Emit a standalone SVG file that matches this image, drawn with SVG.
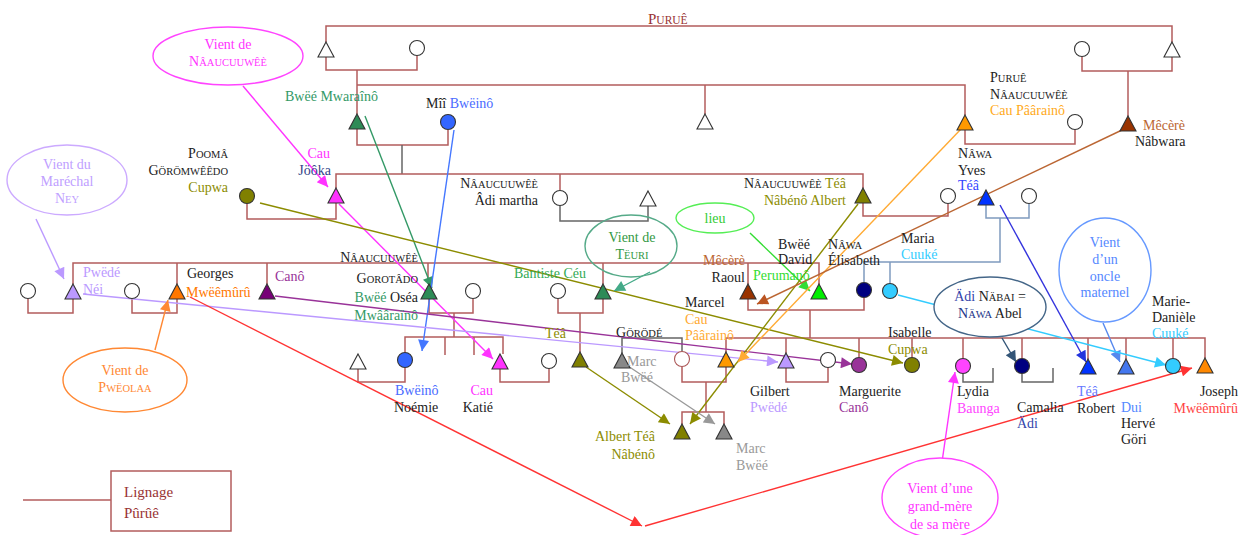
<svg xmlns="http://www.w3.org/2000/svg" width="1243" height="535" viewBox="0 0 1243 535">
<style>
text{font-family:"Liberation Serif","Times New Roman",serif;font-size:14px;fill:#222}
.ln{fill:none;stroke:#b35c5c;stroke-width:1.5}
.gl{fill:none;stroke:#666;stroke-width:1.5}
.bl{fill:none;stroke:#7f9bbf;stroke-width:1.5}
.nd{stroke:#333;stroke-width:1.1}
.ar{fill:none;stroke-width:1.4}
.sc{font-size:10.5px}
.mid{text-anchor:middle}
.end{text-anchor:end}
.el{stroke-width:1.4}
</style>
<defs>
<path id="tri" d="M0,-8 L8,7 L-8,7 Z"/>
<marker id="m-mag" viewBox="0 0 10 10" refX="10" refY="5" markerWidth="13" markerHeight="11" markerUnits="userSpaceOnUse" orient="auto"><path d="M0,0 L10,5 L0,10 Z" fill="#ff33ff"/></marker>
<marker id="m-grn" viewBox="0 0 10 10" refX="10" refY="5" markerWidth="13" markerHeight="11" markerUnits="userSpaceOnUse" orient="auto"><path d="M0,0 L10,5 L0,10 Z" fill="#339966"/></marker>
<marker id="m-blu" viewBox="0 0 10 10" refX="10" refY="5" markerWidth="13" markerHeight="11" markerUnits="userSpaceOnUse" orient="auto"><path d="M0,0 L10,5 L0,10 Z" fill="#4477ff"/></marker>
<marker id="m-oli" viewBox="0 0 10 10" refX="10" refY="5" markerWidth="13" markerHeight="11" markerUnits="userSpaceOnUse" orient="auto"><path d="M0,0 L10,5 L0,10 Z" fill="#8c8c00"/></marker>
<marker id="m-lpu" viewBox="0 0 10 10" refX="10" refY="5" markerWidth="13" markerHeight="11" markerUnits="userSpaceOnUse" orient="auto"><path d="M0,0 L10,5 L0,10 Z" fill="#bb99ff"/></marker>
<marker id="m-pur" viewBox="0 0 10 10" refX="10" refY="5" markerWidth="13" markerHeight="11" markerUnits="userSpaceOnUse" orient="auto"><path d="M0,0 L10,5 L0,10 Z" fill="#993399"/></marker>
<marker id="m-ora" viewBox="0 0 10 10" refX="10" refY="5" markerWidth="13" markerHeight="11" markerUnits="userSpaceOnUse" orient="auto"><path d="M0,0 L10,5 L0,10 Z" fill="#ff8833"/></marker>
<marker id="m-red" viewBox="0 0 10 10" refX="10" refY="5" markerWidth="13" markerHeight="11" markerUnits="userSpaceOnUse" orient="auto"><path d="M0,0 L10,5 L0,10 Z" fill="#ff3333"/></marker>
<marker id="m-tea" viewBox="0 0 10 10" refX="10" refY="5" markerWidth="13" markerHeight="11" markerUnits="userSpaceOnUse" orient="auto"><path d="M0,0 L10,5 L0,10 Z" fill="#44aa88"/></marker>
<marker id="m-lgr" viewBox="0 0 10 10" refX="10" refY="5" markerWidth="13" markerHeight="11" markerUnits="userSpaceOnUse" orient="auto"><path d="M0,0 L10,5 L0,10 Z" fill="#33dd33"/></marker>
<marker id="m-gry" viewBox="0 0 10 10" refX="10" refY="5" markerWidth="13" markerHeight="11" markerUnits="userSpaceOnUse" orient="auto"><path d="M0,0 L10,5 L0,10 Z" fill="#999999"/></marker>
<marker id="m-lor" viewBox="0 0 10 10" refX="10" refY="5" markerWidth="13" markerHeight="11" markerUnits="userSpaceOnUse" orient="auto"><path d="M0,0 L10,5 L0,10 Z" fill="#ffaa33"/></marker>
<marker id="m-brn" viewBox="0 0 10 10" refX="10" refY="5" markerWidth="13" markerHeight="11" markerUnits="userSpaceOnUse" orient="auto"><path d="M0,0 L10,5 L0,10 Z" fill="#bb5522"/></marker>
<marker id="m-dbl" viewBox="0 0 10 10" refX="10" refY="5" markerWidth="13" markerHeight="11" markerUnits="userSpaceOnUse" orient="auto"><path d="M0,0 L10,5 L0,10 Z" fill="#2233dd"/></marker>
<marker id="m-lbl" viewBox="0 0 10 10" refX="10" refY="5" markerWidth="13" markerHeight="11" markerUnits="userSpaceOnUse" orient="auto"><path d="M0,0 L10,5 L0,10 Z" fill="#5588ee"/></marker>
<marker id="m-cya" viewBox="0 0 10 10" refX="10" refY="5" markerWidth="13" markerHeight="11" markerUnits="userSpaceOnUse" orient="auto"><path d="M0,0 L10,5 L0,10 Z" fill="#33ccff"/></marker>
<marker id="m-sla" viewBox="0 0 10 10" refX="10" refY="5" markerWidth="13" markerHeight="11" markerUnits="userSpaceOnUse" orient="auto"><path d="M0,0 L10,5 L0,10 Z" fill="#335577"/></marker>
</defs>
<rect width="1243" height="535" fill="#fff"/>

<text x="648" y="24" fill="#993333" style="fill:#993333;font-size:15px">P<tspan class="sc" style="font-size:11.5px">URUÊ</tspan></text>

<g id="lineage">
<path class="ln" d="M326,42 V26 H1172 V42"/>
<path class="ln" d="M326,57 V70 H417 V56"/>
<path class="ln" d="M357,70 V114"/>
<path class="ln" d="M357,85 H965 V115"/>
<path class="ln" d="M705,85 V114"/>
<path class="ln" d="M1082,57 V71 H1172 V57"/>
<path class="ln" d="M1128,71 V116"/>
<path class="ln" d="M965,130 V144 H1075 V130"/>
<path class="ln" d="M357,129 V145 H448 V130"/>
<path class="gl" d="M402,145 V174"/>
<path class="ln" d="M336,188 V174 H863 V188"/>
<path class="ln" d="M560,174 V190"/>
<path class="ln" d="M247,204 V219 H336 V203"/>
<path class="gl" d="M560,206 V221 H648 V206"/>
<path class="ln" d="M863,203 V216 H948 V204"/>
<path class="bl" d="M986,205 V218 H1029 V204"/>
<path class="bl" d="M1000,218 V262 H864 V282"/>
<path class="bl" d="M890,262 V283"/>
<path class="ln" d="M73,284 V263 H819 V284"/>
<path class="ln" d="M177,263 V284 M267,263 V284 M428,263 V284 M603,263 V284 M748,263 V284"/>
<path class="ln" d="M28,299 V313 H73 V299"/>
<path class="ln" d="M132,299 V313 H177 V299"/>
<path class="ln" d="M429,299 V313 H473 V299"/>
<path class="ln" d="M454,313 V337"/>
<path class="ln" d="M405,352 V337 H503 V354"/>
<path class="ln" d="M445,337 V355 M474,337 V355"/>
<path class="ln" d="M558,299 V313 H603 V299"/>
<path class="ln" d="M580,313 V352"/>
<path class="ln" d="M748,299 V310 H864 V298"/>
<path class="ln" d="M810,310 V338"/>
<path class="ln" d="M726,352 V338 H1205 V358"/>
<path class="ln" d="M786,338 V353 M859,338 V357 M912,338 V357 M963,338 V358 M1022,338 V358 M1088,338 V359 M1126,338 V359 M1173,338 V358"/>
<path class="gl" d="M622,353 V338 H682 V351"/>
<path class="ln" d="M358,369 V382 H405 V368"/>
<path class="ln" d="M500,369 V382 H549 V369"/>
<path class="ln" d="M682,367 V382 H726 V367"/>
<path class="ln" d="M706,382 V412"/>
<path class="ln" d="M682,424 V412 H724 V424"/>
<path class="ln" d="M786,368 V382 H828 V368"/>
<path class="gl" d="M963,374 V382 H993 V368"/>
<path class="gl" d="M1022,374 V382 H1053 V368"/>
</g>

<g id="connectors">
<path class="ar" stroke="#ff33ff" d="M243,86 L328,187" marker-end="url(#m-mag)"/>
<path class="ar" stroke="#ff33ff" d="M339,204 L493,359" marker-end="url(#m-mag)"/>
<path class="ar" stroke="#339966" d="M365,116 L432,288" marker-end="url(#m-grn)"/>
<path class="ar" stroke="#4477ff" d="M454,130 L422,351" marker-end="url(#m-blu)"/>
<path class="ar" stroke="#8c8c00" d="M260,203 L903,363" marker-end="url(#m-oli)"/>
<path class="ar" stroke="#bb99ff" d="M36,219 L64,279" marker-end="url(#m-lpu)"/>
<path class="ar" stroke="#bb99ff" d="M83,294 L778,362" marker-end="url(#m-lpu)"/>
<path class="ar" stroke="#993399" d="M275,296 L852,364" marker-end="url(#m-pur)"/>
<path class="ar" stroke="#ff8833" d="M155,350 L168,300" marker-end="url(#m-ora)"/>
<path class="ar" stroke="#ff3333" d="M190,297 L642,526" marker-end="url(#m-red)"/>
<path class="ar" stroke="#ff3333" d="M645,526 L1192,368" marker-end="url(#m-red)"/>
<path class="ar" stroke="#44aa88" d="M650,272 L614,291" marker-end="url(#m-tea)"/>
<path class="ar" stroke="#33dd33" d="M750,233 L810,291" marker-end="url(#m-lgr)"/>
<path class="ar" stroke="#8c8c00" d="M858,204 L690,424" marker-end="url(#m-oli)"/>
<path class="ar" stroke="#8c8c00" d="M586,367 L670,424" marker-end="url(#m-oli)"/>
<path class="ar" stroke="#999999" d="M628,366 L715,424" marker-end="url(#m-gry)"/>
<path class="ar" stroke="#ffaa33" d="M962,128 L738,362" marker-end="url(#m-lor)"/>
<path class="ar" stroke="#bb6633" d="M1122,130 L757,304" marker-end="url(#m-brn)"/>
<path class="ar" stroke="#3333dd" d="M1000,205 L1086,362" marker-end="url(#m-dbl)"/>
<path class="ar" stroke="#5588ee" d="M1103,323 L1120,362" marker-end="url(#m-lbl)"/>
<path class="ar" stroke="#33ccff" d="M898,295 L1166,365" marker-end="url(#m-cya)"/>
<path class="ar" stroke="#335577" d="M1002,338 L1016,362" marker-end="url(#m-sla)"/>
<path class="ar" stroke="#ff33ff" d="M942,462 L955,372" marker-end="url(#m-mag)"/>
</g>

<g id="e-naau"><ellipse class="el" cx="228" cy="56" rx="75" ry="29" fill="#fff" stroke="#ff44ff"/>
<text class="mid" x="228" y="49" style="fill:#ff33ff">Vient de</text>
<text class="mid" x="228" y="66" style="fill:#ff33ff">N<tspan class="sc">ÂAUCUUWÊÈ</tspan></text></g>
<g id="e-ney"><ellipse class="el" cx="67" cy="180" rx="60" ry="35" fill="#fff" stroke="#ccaaff"/>
<text class="mid" x="67" y="169" style="fill:#c0a0ff">Vient du</text>
<text class="mid" x="67" y="186" style="fill:#c0a0ff">Maréchal</text>
<text class="mid" x="67" y="203" style="fill:#c0a0ff">N<tspan class="sc">EY</tspan></text></g>
<g id="e-pweo"><ellipse class="el" cx="125" cy="380" rx="62" ry="32" fill="#fff" stroke="#ff8833"/>
<text class="mid" x="125" y="375" style="fill:#ff8833">Vient de</text>
<text class="mid" x="125" y="392" style="fill:#ff8833">P<tspan class="sc">WËOLAA</tspan></text></g>
<g id="e-teuri"><ellipse class="el" cx="631" cy="246" rx="46" ry="31" fill="none" stroke="#55aa88"/>
<text class="mid" x="632" y="242" style="fill:#339944">Vient de</text>
<text class="mid" x="632" y="259" style="fill:#339944">T<tspan class="sc">ËURI</tspan></text></g>
<g id="e-lieu"><ellipse class="el" cx="715" cy="218" rx="39" ry="15" fill="#fff" stroke="#55ee55"/>
<text class="mid" x="715" y="223" style="fill:#33cc33">lieu</text></g>

<g id="n-top1"><use href="#tri" x="326" y="50" class="nd" fill="#fff"/></g>
<g id="n-top2"><circle cx="417" cy="48" r="7.5" class="nd" fill="#fff"/></g>
<g id="n-top3"><circle cx="1082" cy="49" r="7.5" class="nd" fill="#fff"/></g>
<g id="n-top4"><use href="#tri" x="1172" y="50" class="nd" fill="#fff"/></g>

<g id="n-mwarain"><use href="#tri" x="357" y="122" class="nd" fill="#2e8b57"/>
<text x="285" y="101" style="fill:#339966">Bwëé Mwaraînô</text></g>
<g id="n-mii"><circle cx="448" cy="122" r="7.5" class="nd" fill="#3366ff"/>
<text x="426" y="108">Mîî <tspan style="fill:#4a6cff">Bwëinô</tspan></text></g>
<g id="n-w705"><use href="#tri" x="705" y="122" class="nd" fill="#fff"/></g>
<g id="n-caupaa"><use href="#tri" x="965" y="123" class="nd" fill="#ff9900"/>
<text x="990" y="82">P<tspan class="sc">URUÊ</tspan></text>
<text x="990" y="99">N<tspan class="sc">ÂAUCUUWÊÈ</tspan></text>
<text x="990" y="115" style="fill:#ffaa22">Cau Pâârainô</text></g>
<g id="n-c1075"><circle cx="1075" cy="122" r="7.5" class="nd" fill="#fff"/></g>
<g id="n-mecere"><use href="#tri" x="1128" y="124" class="nd" fill="#993300"/>
<text x="1143" y="130" style="fill:#bb6633">Mêcèrè</text>
<text x="1135" y="146">Nâbwara</text></g>

<g id="n-cupwa"><circle cx="247" cy="196" r="7.5" class="nd" fill="#808000"/>
<text class="end" x="228" y="158">P<tspan class="sc">OOMÂ</tspan></text>
<text class="end" x="228" y="175">G<tspan class="sc">ÖRÖMWÊÊDO</tspan></text>
<text class="end" x="228" y="192" style="fill:#8c8c00">Cupwa</text></g>
<g id="n-jooka"><use href="#tri" x="336" y="196" class="nd" fill="#ff33ff"/>
<text class="end" x="330" y="158" style="fill:#ff33ff">Cau</text>
<text class="end" x="331" y="175" style="fill:#334488">Jöôka</text></g>
<g id="n-adi"><circle cx="560" cy="198" r="7.5" class="nd" fill="#fff"/>
<text class="end" x="538" y="188">N<tspan class="sc">ÂAUCUUWÊÈ</tspan></text>
<text class="end" x="538" y="205">Âdi martha</text></g>
<g id="n-w648"><use href="#tri" x="648" y="199" class="nd" fill="#fff"/></g>
<g id="n-albert"><use href="#tri" x="863" y="196" class="nd" fill="#808000"/>
<text class="end" x="846" y="188">N<tspan class="sc">ÂAUCUUWÊÈ</tspan> <tspan style="fill:#8c8c00">Téâ</tspan></text>
<text class="end" x="846" y="205" style="fill:#8c8c00">Nâbénô Albert</text></g>
<g id="n-c948"><circle cx="948" cy="196" r="7.5" class="nd" fill="#fff"/></g>
<g id="n-yves"><use href="#tri" x="986" y="198" class="nd" fill="#0033ff"/>
<text x="958" y="158">N<tspan class="sc">ÂWA</tspan></text>
<text x="958" y="175">Yves</text>
<text x="958" y="190" style="fill:#3344ff">Téâ</text></g>
<g id="n-c1029"><circle cx="1029" cy="196" r="7.5" class="nd" fill="#fff"/></g>

<g id="n-c28"><circle cx="28" cy="291" r="7.5" class="nd" fill="#fff"/></g>
<g id="n-pwede"><use href="#tri" x="73" y="292" class="nd" fill="#bb99ff"/>
<text x="83" y="277" style="fill:#bb99ff">Pwëdé</text>
<text x="83" y="294" style="fill:#bb99ff">Néi</text></g>
<g id="n-c132"><circle cx="132" cy="291" r="7.5" class="nd" fill="#fff"/></g>
<g id="n-georges"><use href="#tri" x="177" y="292" class="nd" fill="#ff7700"/>
<text x="187" y="278">Georges</text>
<text x="186" y="297" style="fill:#ff7700">Mwëêmûrû</text></g>
<g id="n-cano"><use href="#tri" x="267" y="292" class="nd" fill="#770077"/>
<text x="275" y="281" style="fill:#993399">Canô</text></g>
<g id="n-osea"><use href="#tri" x="429" y="292" class="nd" fill="#2e8b57"/>
<text class="end" x="418" y="262">N<tspan class="sc">ÂAUCUUWÊÈ</tspan></text>
<text class="end" x="418" y="283">G<tspan class="sc">OROTÂDO</tspan></text>
<text class="end" x="418" y="302"><tspan style="fill:#339966">Bwëé</tspan> Oséa</text>
<text class="end" x="418" y="320" style="fill:#339966">Mwââraïnô</text></g>
<g id="n-c473"><circle cx="473" cy="291" r="7.5" class="nd" fill="#fff"/></g>
<g id="n-c558"><circle cx="558" cy="291" r="7.5" class="nd" fill="#fff"/></g>
<g id="n-bantiste"><use href="#tri" x="603" y="292" class="nd" fill="#2e8b57"/>
<text x="514" y="278" style="fill:#33aa55">Bantiste Céu</text></g>
<g id="n-raoul"><use href="#tri" x="748" y="292" class="nd" fill="#993300"/>
<text class="end" x="745" y="265" style="fill:#bb6633">Mêcèrè</text>
<text class="end" x="745" y="282">Raoul</text>
<text x="685" y="307">Marcel</text>
<text x="685" y="324" style="fill:#ffaa33">Cau</text>
<text x="685" y="340" style="fill:#ffaa33">Pâârainô</text></g>
<g id="n-david"><use href="#tri" x="819" y="292" class="nd" fill="#00ee00"/>
<text x="778" y="249">Bwëé</text>
<text x="778" y="264">David</text>
<text x="753" y="280" style="fill:#33dd33">Perumanô</text></g>
<g id="n-elisabeth"><circle cx="864" cy="290" r="7.5" class="nd" fill="#000080"/>
<text x="828" y="249">N<tspan class="sc">ÂWA</tspan></text>
<text x="828" y="265">Élisabeth</text></g>
<g id="n-maria"><circle cx="890" cy="291" r="7.5" class="nd" fill="#33ccff"/>
<text x="901" y="243">Maria</text>
<text x="901" y="259" style="fill:#33ccff">Cuuké</text></g>

<g id="n-w358"><use href="#tri" x="358" y="362" class="nd" fill="#fff"/></g>
<g id="n-noemie"><circle cx="405" cy="360" r="7.5" class="nd" fill="#3366ff"/>
<text x="395" y="395" style="fill:#4a6cff">Bwëinô</text>
<text x="394" y="412">Noémie</text></g>
<g id="n-katie"><use href="#tri" x="500" y="362" class="nd" fill="#ff33ff"/>
<text class="end" x="493" y="395" style="fill:#ff33ff">Cau</text>
<text class="end" x="493" y="412">Katié</text></g>
<g id="n-c549"><circle cx="549" cy="361" r="7.5" class="nd" fill="#fff"/></g>
<g id="n-tea"><use href="#tri" x="580" y="360" class="nd" fill="#808000"/>
<text x="545" y="338" style="fill:#8c8c00">Téâ</text></g>
<g id="n-gorode"><use href="#tri" x="622" y="361" class="nd" fill="#888"/>
<text x="616" y="337">G<tspan class="sc">ÖRÖDÉ</tspan></text>
<text x="627" y="366" style="fill:#999">Marc</text>
<text x="621" y="382" style="fill:#999">Bwëé</text></g>
<g id="n-c682"><circle cx="682" cy="359" r="7.5" stroke="#aa5555" stroke-width="1.1" fill="#fff"/></g>
<g id="n-caup2"><use href="#tri" x="726" y="360" class="nd" fill="#ff9900"/></g>
<g id="n-gilbert"><use href="#tri" x="786" y="361" class="nd" fill="#bb99ff"/>
<text x="750" y="396">Gilbert</text>
<text x="750" y="412" style="fill:#bb99ff">Pwëdé</text></g>
<g id="n-c828"><circle cx="828" cy="360" r="7.5" class="nd" fill="#fff"/></g>
<g id="n-marguerite"><circle cx="859" cy="365" r="7.5" class="nd" fill="#993399"/>
<text x="839" y="396">Marguerite</text>
<text x="839" y="412" style="fill:#993399">Canô</text></g>
<g id="n-isabelle"><circle cx="912" cy="365" r="7.5" class="nd" fill="#808000"/>
<text x="888" y="337">Isabelle</text>
<text x="888" y="354" style="fill:#8c8c00">Cupwa</text></g>
<g id="n-lydia"><circle cx="963" cy="366" r="7.5" class="nd" fill="#ff44ff"/>
<text x="957" y="396">Lydia</text>
<text x="957" y="413" style="fill:#ff44ff">Baunga</text></g>
<g id="n-camalia"><circle cx="1022" cy="366" r="7.5" class="nd" fill="#000080"/>
<text x="1017" y="412">Camalia</text>
<text x="1017" y="428" style="fill:#3344aa">Ädi</text></g>
<g id="n-robert"><use href="#tri" x="1088" y="367" class="nd" fill="#0033ff"/>
<text x="1077" y="396" style="fill:#6677ff">Téâ</text>
<text x="1077" y="413">Robert</text></g>
<g id="n-dui"><use href="#tri" x="1126" y="367" class="nd" fill="#4477ee"/>
<text x="1121" y="412" style="fill:#5588ff">Dui</text>
<text x="1121" y="428">Hervé</text>
<text x="1121" y="444">Göri</text></g>
<g id="n-marie"><circle cx="1173" cy="366" r="7.5" class="nd" fill="#33ccff"/>
<text x="1152" y="306">Marie-</text>
<text x="1152" y="322">Danièle</text>
<text x="1152" y="338" style="fill:#33ccff">Cuuké</text></g>
<g id="n-joseph"><use href="#tri" x="1205" y="366" class="nd" fill="#ff8800"/>
<text class="end" x="1238" y="396">Joseph</text>
<text class="end" x="1238" y="413" style="fill:#ff4444">Mwëêmûrû</text></g>
<g id="n-albert2"><use href="#tri" x="682" y="432" class="nd" fill="#808000"/>
<text class="end" x="655" y="441" style="fill:#8c8c00">Albert Téâ</text>
<text class="end" x="655" y="459" style="fill:#8c8c00">Nâbénô</text></g>
<g id="n-marc"><use href="#tri" x="724" y="432" class="nd" fill="#888"/>
<text x="736" y="453" style="fill:#999">Marc</text>
<text x="736" y="470" style="fill:#999">Bwëé</text></g>

<g id="e-nabai"><ellipse class="el" cx="990" cy="307" rx="56" ry="30" fill="#fff" stroke="#446688"/>
<text class="mid" x="990" y="301"><tspan style="fill:#3344aa">Ädi</tspan> N<tspan class="sc">ÄBAI</tspan> =</text>
<text class="mid" x="990" y="318"><tspan style="fill:#223388">N<tspan class="sc">ÄWA</tspan></tspan> Abel</text></g>
<g id="e-oncle"><ellipse class="el" cx="1105" cy="270" rx="46" ry="52" fill="#fff" stroke="#6699ff"/>
<text class="mid" x="1105" y="247" style="fill:#5588ff">Vient</text>
<text class="mid" x="1105" y="264" style="fill:#5588ff">d’un</text>
<text class="mid" x="1105" y="281" style="fill:#5588ff">oncle</text>
<text class="mid" x="1105" y="297" style="fill:#5588ff">maternel</text></g>
<g id="e-grandmere"><ellipse class="el" cx="940" cy="498" rx="58" ry="40" fill="#fff" stroke="#ff44ff"/>
<text class="mid" x="940" y="493" style="fill:#ff33ff">Vient d’une</text>
<text class="mid" x="940" y="511" style="fill:#ff33ff">grand-mère</text>
<text class="mid" x="940" y="529" style="fill:#ff33ff">de sa mère</text></g>

<g id="legend"><path class="ln" d="M23,500 H111"/>
<rect x="111" y="471" width="120" height="60" fill="#fff" stroke="#b35c5c" stroke-width="1.5"/>
<text x="124" y="497" style="fill:#993333;font-size:15px">Lignage</text>
<text x="124" y="518" style="fill:#993333;font-size:15px">Pûrûê</text></g>
</svg>
